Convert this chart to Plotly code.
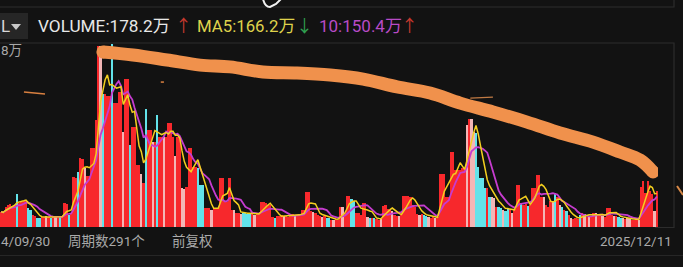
import plotly.graph_objects as go
import pandas as pd

# ---------------- data (volume, unit: 万) ----------------
volumes = [
    75, 70, 100, 110, 115, 105, 110, 163, 120, 125, 130, 128, 95, 85, 60, 55, 45, 45, 50, 50,
    55, 50, 45, 55, 50, 45, 50, 55, 120, 115, 60, 70, 245, 240, 272, 340, 335, 292, 250, 250,
    390, 390, 530, 896, 896, 660, 660, 650, 650, 906, 614, 614, 668, 668, 470, 733, 733, 406, 495, 495,
    307, 307, 260, 218, 584, 480, 480, 420, 420, 554, 446, 446, 446, 446, 515, 515, 446, 350, 446, 446,
    193, 190, 200, 391, 391, 297, 297, 290, 208, 208, 94, 94, 94, 85, 94, 94, 94, 243, 243, 124,
    124, 240, 84, 84, 70, 70, 65, 70, 70, 65, 70, 65, 60, 65, 65, 124, 124, 120, 110, 110,
    50, 45, 55, 55, 60, 55, 55, 50, 65, 65, 55, 55, 60, 84, 84, 173, 173, 80, 75, 70,
    60, 55, 50, 55, 45, 45, 35, 35, 40, 35, 100, 100, 70, 153, 153, 140, 130, 70, 70, 60,
    120, 120, 50, 45, 45, 45, 40, 35, 40, 105, 109, 90, 85, 80, 60, 55, 55, 60, 153, 153,
    153, 150, 110, 100, 65, 60, 65, 60, 55, 50, 45, 50, 45, 50, 262, 262, 262, 149, 149, 371,
    371, 282, 282, 282, 290, 290, 505, 535, 535, 470, 465, 297, 243, 243, 193, 193, 150, 150, 145, 100,
    100, 95, 85, 80, 95, 90, 70, 90, 208, 208, 120, 110, 115, 105, 110, 193, 193, 257, 257, 150,
    150, 110, 100, 130, 130, 170, 150, 110, 100, 85, 80, 60, 45, 40, 45, 40, 60, 70, 65, 50,
    55, 55, 70, 70, 55, 60, 55, 50, 94, 94, 60, 55, 55, 50, 45, 45, 40, 45, 40, 35,
    35, 40, 35, 200, 230, 170, 230, 180, 165, 78, 178.2,
]
# r = up (red), c = down (cyan), p = pale bar
kinds = (
    "rrrrrrrcrrrrccrrccrr" "prcrprcrrrcrrrcrrprr"
    "rrrrpcrrrcrrrrprrcrr" "rrprcrrprcrrprrrrprr"
    "pprrrrrcccrrrprrrrrr" "rrrprrpccccrprrrrrrr"
    "rcrrrprrrrprrrrrrrpr" "rrprccrprrrprrrccrrr"
    "rrpcrcrrprrrrprrprrr" "rrrrrprccprrprrrrrrr"
    "rrrrrrprppcccccrcppr" "ccpccrprrrcrrcrrrrrr"
    "prrrpcrpcrcrprrrcrpr" "prrprrprrrrprccprppr"
    "rrprrrrrrpr"
)
colors = {"r": "#f7282c", "c": "#62e3ea", "p": "#f2b6b6"}

idx = list(range(len(volumes)))
vol = pd.Series(volumes)
ma5 = vol.rolling(5, min_periods=1).mean()
ma10 = vol.rolling(10, min_periods=1).mean()

# hand-drawn orange stroke (bar index, volume)
stroke_x = [45.0, 58.3, 73.4, 88.0, 101.2, 115.8, 130.9, 145.5, 160.1, 175.1, 189.7, 203.0, 217.5, 232.6, 247.2, 261.8, 273.7, 282.6, 288.3]
stroke_y = [866, 851, 826, 801, 792, 767, 762, 752, 732, 693, 663, 613, 569, 519, 465, 420, 371, 331, 272]

# ---------------- layout geometry ----------------
W, H = 683, 267
L, R, T, B = 0, 25, 37, 40
PW, PH = W - L - R, H - T - B


def px(x):
    return (x - L) / PW


def py(y):
    return (H - B - y) / PH


BG = "#121212"
fig = go.Figure()
fig.add_trace(go.Bar(
    x=idx, y=volumes,
    marker=dict(color=[colors[k] for k in kinds], line=dict(width=0)),
    hoverinfo="skip", showlegend=False,
))
fig.add_trace(go.Scatter(x=idx, y=ma10, mode="lines", line=dict(color="#c63ccf", width=1.8),
                         hoverinfo="skip", showlegend=False))
fig.add_trace(go.Scatter(x=idx, y=ma5, mode="lines", line=dict(color="#f3cf1f", width=1.5),
                         hoverinfo="skip", showlegend=False))
# orange annotation stroke
fig.add_trace(go.Scatter(x=stroke_x, y=stroke_y, mode="lines", line=dict(color="#f0914c", width=13, shape="spline"),
                         hoverinfo="skip", showlegend=False))
fig.add_trace(go.Scatter(x=[stroke_x[0], stroke_x[-1]], y=[stroke_y[0], stroke_y[-1]], mode="markers",
                         marker=dict(color="#f0914c", size=13), hoverinfo="skip", showlegend=False))
# small orange marks
fig.add_trace(go.Scatter(x=[10.1, 19.4], y=[668, 658], mode="lines", line=dict(color="#d98040", width=1.5),
                         hoverinfo="skip", showlegend=False))
fig.add_trace(go.Scatter(x=[70.6, 72.0], y=[717, 717], mode="lines", line=dict(color="#d98040", width=1.5),
                         hoverinfo="skip", showlegend=False))
fig.add_trace(go.Scatter(x=[207.5, 217.5], y=[638, 643], mode="lines", line=dict(color="#c07a44", width=1.2),
                         hoverinfo="skip", showlegend=False))

shapes = []
line_col = "#2c2c2c"
# panel borders
shapes.append(dict(type="path", xref="paper", yref="paper",
                   path=f"M {px(-2)},{py(7)} L {px(674)},{py(7)} L {px(674)},{py(-2)}",
                   line=dict(color=line_col, width=1.2)))
shapes.append(dict(type="path", xref="paper", yref="paper",
                   path=f"M {px(-2)},{py(43)} L {px(674)},{py(43)} L {px(674)},{py(227.5)} L {px(655)},{py(227.5)}",
                   line=dict(color=line_col, width=1.2)))
shapes.append(dict(type="line", xref="paper", yref="paper", x0=px(-2), x1=px(690), y0=py(255.5), y1=py(255.5),
                   line=dict(color="#262626", width=1.2)))
# period selector box
shapes.append(dict(type="rect", xref="paper", yref="paper", x0=px(-4), x1=px(28), y0=py(39), y1=py(13),
                   fillcolor="#262626", line=dict(width=0), layer="below"))
shapes.append(dict(type="path", xref="paper", yref="paper",
                   path=f"M {px(11)},{py(24)} L {px(21)},{py(24)} L {px(16)},{py(30)} Z",
                   fillcolor="#c8c8c8", line=dict(width=0)))
# white scribble at top
shapes.append(dict(type="path", xref="paper", yref="paper",
                   path=f"M {px(263)},{py(-1)} Q {px(265)},{py(7)} {px(270)},{py(7)} L {px(276)},{py(4)} L {px(281)},{py(-1)}",
                   line=dict(color="#f2f2f2", width=2)))
# orange tick at right edge
shapes.append(dict(type="path", xref="paper", yref="paper",
                   path=f"M {px(677)},{py(186)} L {px(683)},{py(195)}",
                   line=dict(color="#d98a48", width=2)))

FONT = "Roboto, 'Noto Sans CJK SC', sans-serif"
ann = []


def text(x, y, s, color, size, anchor="left"):
    ann.append(dict(xref="paper", yref="paper", x=px(x), y=py(y), text=s, showarrow=False,
                    xanchor=anchor, yanchor="middle", borderpad=0,
                    font=dict(family=FONT, size=size, color=color)))


text(0, 26, "L", "#d8d8d8", 17)
text(37, 26, "VOLUME:178.2万", "#e8e8e8", 17.2)
text(183, 26, "↑", "#c7392e", 17, anchor="center")
text(196, 26, "MA5:166.2万", "#dfd24c", 16.8)
text(304, 26, "↓", "#2f9f4f", 17, anchor="center")
text(318, 26, "10:150.4万", "#b84bc6", 17)
text(410, 26, "↑", "#c7392e", 17, anchor="center")
text(0, 50, "8万", "#a8a8a8", 13.5)
text(0, 241, "4/09/30", "#aaaaaa", 13.5)
text(67, 241, "周期数291个", "#aaaaaa", 13.5)
text(171, 241, "前复权", "#aaaaaa", 13.5)
text(673, 241, "2025/12/11", "#aaaaaa", 13.5, anchor="right")

fig.update_layout(
    width=W, height=H,
    margin=dict(l=L, r=R, t=T, b=B),
    paper_bgcolor=BG, plot_bgcolor=BG,
    bargap=0,
    xaxis=dict(visible=False, range=[-0.5, len(volumes) - 0.5], fixedrange=True),
    yaxis=dict(visible=False, range=[0, 940], fixedrange=True),
    shapes=shapes, annotations=ann,
    showlegend=False,
)
fig.write_html("out.html", config={"displayModeBar": False})
